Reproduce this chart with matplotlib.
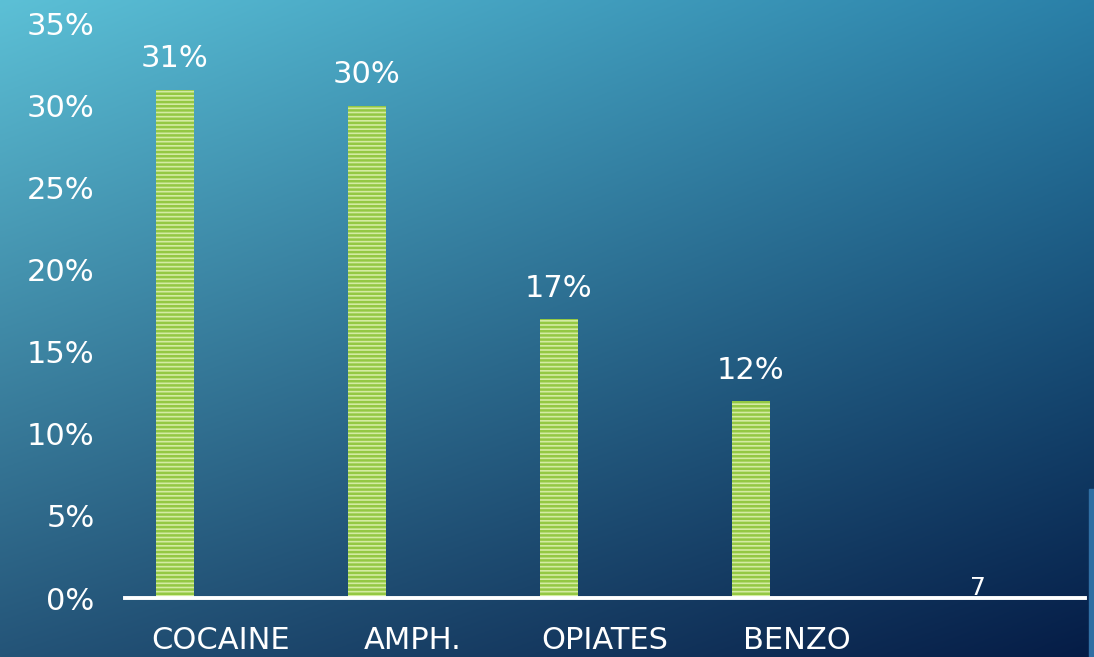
import numpy as np
import matplotlib.pyplot as plt
from matplotlib.ticker import FuncFormatter

categories = ['COCAINE', 'AMPH.', 'OPIATES', 'BENZO', '']
values = [31, 30, 17, 12]
value_labels = ['31%', '30%', '17%', '12%']
stray_label = '7'
yticks = [0, 5, 10, 15, 20, 25, 30, 35]

plt.rcParams['hatch.linewidth'] = 1.8
plt.rcParams['font.family'] = 'DejaVu Sans'

fig = plt.figure(figsize=(10.94, 6.57), dpi=100)

# background gradient (bilinear between the four corners)
tl = np.array([92, 192, 214]) / 255
tr = np.array([42, 128, 168]) / 255
bl = np.array([36, 84, 120]) / 255
br = np.array([5, 28, 70]) / 255
u = np.linspace(0, 1, 400)[None, :, None]
v = np.linspace(0, 1, 250)[:, None, None]
grad = (1 - v) * ((1 - u) * tl + u * tr) + v * ((1 - u) * bl + u * br)
bg = fig.add_axes([0, 0, 1, 1])
bg.imshow(grad, aspect='auto', extent=[0, 1, 0, 1], origin='upper')
bg.axis('off')
fig.patches.append(plt.Rectangle((0.9955, 0), 0.0045, 0.255, transform=fig.transFigure,
                                 color='#2f6ea3', zorder=5))

ax = fig.add_axes([0.1143, 0.0898, 0.8775, 0.8737])
ax.patch.set_alpha(0)

x = np.arange(len(values))
bars = ax.bar(x - 0.24, values, width=0.2, color='#d4eba2', edgecolor='#94c843',
              linewidth=0, hatch='----')
for xi, val, lab in zip(x, values, value_labels):
    ax.annotate(lab, (xi - 0.24, val), xytext=(0, 12), textcoords='offset points',
                ha='center', va='bottom', color='white', fontsize=22)
ax.text(len(categories) - 1 - 0.06, -0.15, stray_label, ha='center', va='bottom',
        color='white', fontsize=18, zorder=5)

ax.set_xlim(-0.5, len(categories) - 0.5)
ax.set_ylim(0, 35)
ax.set_xticks(range(len(categories)))
ax.set_xticklabels(categories)
ax.set_yticks(yticks)
ax.yaxis.set_major_formatter(FuncFormatter(lambda v, p: f'{v:.0f}%'))
ax.tick_params(axis='both', length=0, colors='white', labelsize=22)
ax.tick_params(axis='y', pad=22)
ax.tick_params(axis='x', pad=20)
for s in ['top', 'right', 'left']:
    ax.spines[s].set_visible(False)
ax.spines['bottom'].set_color('white')
ax.spines['bottom'].set_linewidth(2.8)
ax.spines['bottom'].set_zorder(3)

fig.savefig('out.png', dpi=100)
